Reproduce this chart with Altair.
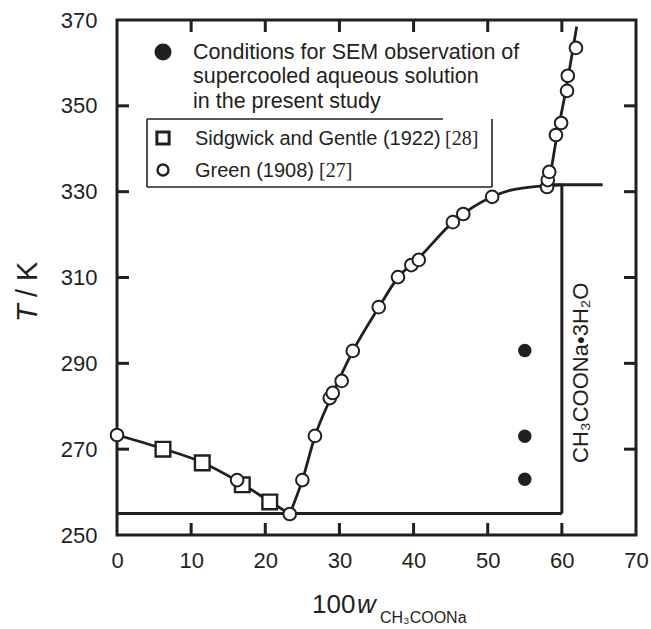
import altair as alt
import pandas as pd

INK = "#231f20"
SANS = "Liberation Sans"
SERIF = "Liberation Serif"
W, H = 519, 515

# Green (1908): composition (100 w) and temperature (K)
green_w = [0, 16.2, 23.3, 25.0, 26.7, 28.7, 29.1, 30.3, 31.8, 35.3, 37.9, 39.7,
           40.7, 45.3, 46.7, 50.6, 58.0, 58.1, 58.3, 59.2, 59.9, 60.7, 60.8, 61.9]
green_T = [273.3, 262.8, 254.9, 262.8, 273.1, 281.9, 283.1, 285.9, 292.9, 303.1, 310.1, 312.9,
           314.1, 322.9, 324.8, 328.8, 331.1, 332.7, 334.6, 343.2, 346.0, 353.5, 357.0, 363.5]

# Sidgwick and Gentle (1922)
sidg_w = [6.2, 11.5, 16.9, 20.6]
sidg_T = [270.0, 266.8, 261.7, 257.7]

# Supercooled solutions used for SEM observation
sem_w = [55, 55, 55]
sem_T = [293, 273, 263]

# Liquidus curves: ice, trihydrate and anhydrous salt branches
ice_w = [0, 6.2, 11.5, 16.5, 20.6, 23.3]
ice_T = [273.3, 270.1, 266.9, 262.3, 257.8, 254.9]
tri_w = [23.3, 25.0, 26.7, 29.0, 31.8, 35.3, 37.9, 40.5, 45.5, 50.6, 53.0, 56.0, 60.0]
tri_T = [254.9, 262.8, 273.0, 282.6, 292.8, 303.0, 310.0, 314.2, 323.2, 328.8, 330.3, 331.1, 331.6]
anh_w = [58.1, 59.2, 60.5, 62.0]
anh_T = [330.0, 341.7, 353.3, 368.5]

# Eutectic line, trihydrate composition and its melting plateau
T_eut = 255
w_hyd = 60
T_melt = 331.6
w_plateau = [58.0, 65.5]

x_tick_vals = [10, 20, 30, 40, 50, 60]
y_tick_vals = [270, 290, 310, 330, 350]
x_label_vals = [0, 10, 20, 30, 40, 50, 60, 70]
y_label_vals = [250, 270, 290, 310, 330, 350, 370]

x_scale = alt.Scale(domain=[0, 70], nice=False, zero=False)
y_scale = alt.Scale(domain=[250, 370], nice=False, zero=False)

x_axis = alt.Axis(values=x_label_vals, ticks=False, tickSize=0, domain=False, grid=False,
                  labelFont=SANS, labelFontSize=22, labelColor=INK, labelPadding=25,
                  labelBaseline="middle", labelFlush=False, labelOverlap=False, title=None)
y_axis = alt.Axis(values=y_label_vals, ticks=False, tickSize=0, domain=False, grid=False,
                  labelFont=SANS, labelFontSize=22, labelColor=INK, labelPadding=20,
                  labelFlush=False, labelOverlap=False, title=None)


def X(field):
    return alt.X(field, type="quantitative", scale=x_scale, axis=x_axis)


def Y(field):
    return alt.Y(field, type="quantitative", scale=y_scale, axis=y_axis)


one = pd.DataFrame({"k": [0]})

curves = pd.DataFrame({
    "w": ice_w + tri_w + anh_w,
    "T": ice_T + tri_T + anh_T,
    "branch": ["ice"] * len(ice_w) + ["trihydrate"] * len(tri_w) + ["anhydrous"] * len(anh_w),
})
lines = alt.Chart(curves).mark_line(interpolate="monotone", color=INK, strokeWidth=2.8).encode(
    x=X("w"), y=Y("T"), detail="branch:N")

rules_df = pd.DataFrame({
    "w": [0, w_hyd, w_plateau[0]],
    "w2": [w_hyd, w_hyd, w_plateau[1]],
    "T": [T_eut, T_eut, T_melt],
    "T2": [T_eut, T_melt, T_melt],
})
rules = alt.Chart(rules_df).mark_rule(color=INK, strokeWidth=3).encode(
    x=X("w"), x2="w2", y=Y("T"), y2="T2")

squares = alt.Chart(pd.DataFrame({"w": sidg_w, "T": sidg_T})).mark_point(
    shape="square", size=215, filled=True, fill="white", stroke=INK, strokeWidth=2.4, opacity=1
).encode(x=X("w"), y=Y("T"))

circles = alt.Chart(pd.DataFrame({"w": green_w, "T": green_T})).mark_point(
    shape="circle", size=160, filled=True, fill="white", stroke=INK, strokeWidth=2, opacity=1
).encode(x=X("w"), y=Y("T"))

sem = alt.Chart(pd.DataFrame({"w": sem_w, "T": sem_T})).mark_circle(
    size=180, color=INK, opacity=1).encode(x=X("w"), y=Y("T"))

# inward ticks on all four sides
xt = pd.DataFrame({"v": x_tick_vals})
yt = pd.DataFrame({"v": y_tick_vals})
tick_style = dict(color=INK, strokeWidth=3)
ticks = [
    alt.Chart(xt).mark_rule(**tick_style).encode(x=X("v"), y=alt.value(H), y2=alt.value(H - 12)),
    alt.Chart(xt).mark_rule(**tick_style).encode(x=X("v"), y=alt.value(0), y2=alt.value(12)),
    alt.Chart(yt).mark_rule(**tick_style).encode(y=Y("v"), x=alt.value(0), x2=alt.value(12)),
    alt.Chart(yt).mark_rule(**tick_style).encode(y=Y("v"), x=alt.value(W), x2=alt.value(W - 12)),
]


def label(txt, x, y, size, font=SANS, style="normal", angle=0, align="left", baseline="alphabetic"):
    return alt.Chart(one).mark_text(
        text=txt, font=font, fontSize=size, fontStyle=style, color=INK,
        align=align, baseline=baseline, angle=angle
    ).encode(x=alt.value(x), y=alt.value(y))


def hline(x1, x2, y, width=1.6):
    return alt.Chart(one).mark_rule(color=INK, strokeWidth=width).encode(
        x=alt.value(x1), x2=alt.value(x2), y=alt.value(y), y2=alt.value(y))


def vline(x, y1, y2, width=1.6):
    return alt.Chart(one).mark_rule(color=INK, strokeWidth=width).encode(
        x=alt.value(x), x2=alt.value(x), y=alt.value(y1), y2=alt.value(y2))


legend = [
    alt.Chart(one).mark_circle(size=290, color=INK, opacity=1).encode(
        x=alt.value(46), y=alt.value(32)),
    label("Conditions for SEM observation of", 76, 39, 21.5),
    label("supercooled aqueous solution", 76, 63, 21.5),
    label("in the present study", 76, 88, 21.5),
    vline(30, 99, 167), vline(375, 99, 167), hline(30, 375, 167), hline(30, 326, 99),
    alt.Chart(one).mark_point(shape="square", size=150, filled=True, fill="white",
                              stroke=INK, strokeWidth=3, opacity=1).encode(
        x=alt.value(46), y=alt.value(118)),
    label("Sidgwick and Gentle (1922)", 78, 125, 20),
    label("[28]", 328, 125, 20, font=SERIF),
    alt.Chart(one).mark_point(shape="circle", size=120, filled=True, fill="white",
                              stroke=INK, strokeWidth=2.4, opacity=1).encode(
        x=alt.value(46), y=alt.value(150)),
    label("Green (1908)", 78, 157, 20),
    label("[27]", 202, 157, 20, font=SERIF),
]

texts = [
    label("CH\u2083COONa\u20223H\u2082O", 471, 443, 22, angle=270),
    # axis titles
    label("T", -80, 302, 29, style="italic", angle=270),
    label("/ K", -80, 277, 29, angle=270),
    label("100", 195, 593, 26),
    label("w", 240, 593, 26, style="italic"),
    label("CH\u2083COONa", 263, 603, 16),
]

chart = alt.layer(
    rules, lines, *ticks, squares, circles, sem, *legend, *texts
).properties(
    width=W, height=H,
    padding={"left": 117, "top": 20, "right": 15, "bottom": 94},
    autosize=alt.AutoSizeParams(type="none"),
    background="white",
).configure_view(
    stroke=INK, strokeWidth=3
)

chart.save("out.html", embed_options={"renderer": "svg", "actions": False})
